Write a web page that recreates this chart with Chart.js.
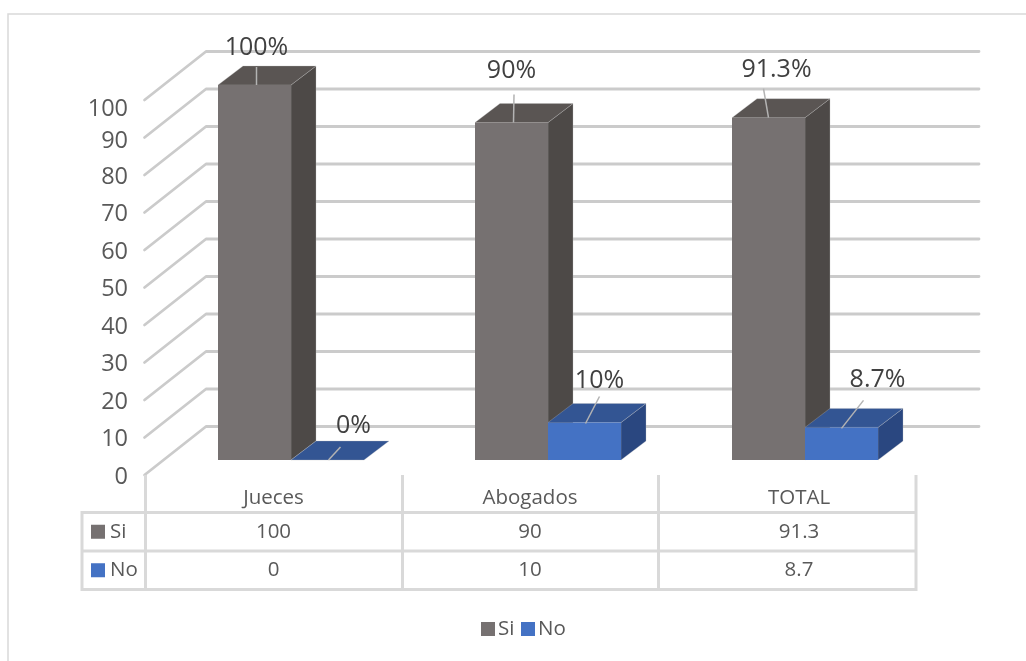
<!DOCTYPE html>
<html>
<head>
<meta charset="utf-8">
<style>
  html, body { margin: 0; padding: 0; background: #fff; }
  canvas { display: block; }
</style>
<script src="https://cdn.jsdelivr.net/npm/chart.js@4"></script>
</head>
<body>
<canvas id="myChart" width="1026" height="661"></canvas>
<script>
const categories = ["Jueces", "Abogados", "TOTAL"];
const siValues = [100, 90, 91.3];
const noValues = [0, 10, 8.7];
const yTickStep = 10;

const FONT = '"Open Sans"';
const TEXT = "#595959";
const LABEL = "#404040";
const LINE = "#d9d9d9";
const GRID = "#cbcbcb";

// depth of the bars and of the walls around them
const barDepth = { x: 25, y: -19 };
const wallFront = { x: -18, y: 15 };
const wallBack = { x: 43.5, y: -33.5 };
const wallRight = 979;

// the two top axis numbers hang lower than their wall lines
const tickNudge = { 100: 7, 90: 2 };

// table grid
const tableCols = [145.5, 402.5, 658.5, 916];
const tableMids = [273.5, 530, 799];
const tableLeft = 82;
const tableTop = 475;
const tableRows = [512.5, 551, 589.5];

// leader line [x0, y0, x1, y1] and label centre [x, y], relative to the bar's top middle
const callouts = [
  [
    { line: [2, 0, 2, -18], label: [2, -37] },
    { line: [2, 0, 2.5, -28], label: [0, -52] },
    { line: [0, 0, -5, -29], label: [8, -47.5] },
  ],
  [
    { line: [1, 0, 13, -13], label: [26, -34] },
    { line: [1, 1, 15, -26], label: [15, -42] },
    { line: [0, 1, 22, -27], label: [36, -47.5] },
  ],
];

function face(c, pts, color) {
  c.beginPath();
  pts.forEach((p, i) => (i ? c.lineTo(p[0], p[1]) : c.moveTo(p[0], p[1])));
  c.closePath();
  c.fillStyle = color;
  c.fill();
  c.strokeStyle = "rgba(190,190,190,0.3)";
  c.lineWidth = 1;
  c.stroke();
}

function text(c, str, x, y, font, color, align) {
  c.font = font;
  c.fillStyle = color;
  c.textAlign = align || "center";
  c.textBaseline = "middle";
  c.fillText(str, x, y);
}

function drawFaces(c, ds, meta) {
  meta.data.forEach((bar) => {
    const l = bar.x - bar.width / 2;
    const r = bar.x + bar.width / 2;
    const t = bar.y;
    const b = bar.base;
    const dx = barDepth.x;
    const dy = barDepth.y;
    if (b - t > 0.5) {
      face(c, [[r, t], [r + dx, t + dy], [r + dx, b + dy], [r, b]], ds.sideColor);
    }
    face(c, [[l, t], [l + dx, t + dy], [r + dx, t + dy], [r, t]], ds.topColor);
  });
}

const bars3d = {
  id: "bars3d",

  // outer frame, side wall and back wall lines
  beforeDatasetsDraw(chart) {
    const c = chart.ctx;
    const yScale = chart.scales.y;
    const left = chart.chartArea.left;
    c.save();
    c.strokeStyle = LINE;
    c.lineWidth = 1.5;
    c.beginPath();
    c.moveTo(8, 661);
    c.lineTo(8, 14);
    c.lineTo(1026, 14);
    c.stroke();

    c.strokeStyle = GRID;
    c.lineWidth = 2.8;
    c.lineCap = "round";
    c.lineJoin = "round";
    yScale.ticks.forEach((t) => {
      const y = yScale.getPixelForValue(t.value);
      c.beginPath();
      c.moveTo(left + wallFront.x, y + wallFront.y);
      c.lineTo(left + wallBack.x, y + wallBack.y);
      c.lineTo(wallRight, y + wallBack.y);
      c.stroke();
      const labelY = y + wallFront.y + 2 + (tickNudge[t.value] || 0);
      text(c, String(t.value), 128, labelY, "23.5px " + FONT, TEXT, "right");
    });
    c.restore();
  },

  // "Si" faces go under its front face; "No" is held back so it lands on top of "Si"
  beforeDatasetDraw(chart, args) {
    if (args.index === 1) return false;
    const c = chart.ctx;
    c.save();
    drawFaces(c, chart.data.datasets[0], args.meta);
    c.restore();
  },

  afterDatasetsDraw(chart) {
    const c = chart.ctx;
    c.save();
    const noMeta = chart.getDatasetMeta(1);
    drawFaces(c, chart.data.datasets[1], noMeta);
    noMeta.data.forEach((bar) => bar.draw(c));

    chart.data.datasets.forEach((ds, i) => {
      chart.getDatasetMeta(i).data.forEach((bar, j) => {
        const call = callouts[i][j];
        c.strokeStyle = "#b3b3b3";
        c.lineWidth = 1.5;
        c.beginPath();
        c.moveTo(bar.x + call.line[0], bar.y + call.line[1]);
        c.lineTo(bar.x + call.line[2], bar.y + call.line[3]);
        c.stroke();
        text(c, ds.data[j] + "%", bar.x + call.label[0], bar.y + call.label[1], "25px " + FONT, LABEL);
      });
    });
    c.restore();
  },

  // data table and legend
  afterDraw(chart) {
    const c = chart.ctx;
    const tableFont = "20.5px " + FONT;
    c.save();
    c.strokeStyle = LINE;
    c.lineWidth = 3;
    c.beginPath();
    tableCols.forEach((x) => {
      c.moveTo(x, tableTop);
      c.lineTo(x, tableRows[2]);
    });
    c.moveTo(tableLeft, tableRows[0]);
    c.lineTo(tableLeft, tableRows[2]);
    tableRows.forEach((y) => {
      c.moveTo(tableLeft - 1.5, y);
      c.lineTo(tableCols[3] + 1.5, y);
    });
    c.stroke();

    categories.forEach((name, i) => {
      text(c, name, tableMids[i], 498, tableFont, TEXT);
      chart.data.datasets.forEach((ds, k) => {
        text(c, String(ds.data[i]), tableMids[i], (tableRows[k] + tableRows[k + 1]) / 2, tableFont, TEXT);
      });
    });

    chart.data.datasets.forEach((ds, k) => {
      const y = (tableRows[k] + tableRows[k + 1]) / 2;
      c.fillStyle = ds.backgroundColor;
      c.fillRect(91, y - 7, 14, 14);
      text(c, ds.label, 110, y, tableFont, TEXT, "left");
    });

    const legendX = [481, 521];
    chart.data.datasets.forEach((ds, k) => {
      c.fillStyle = ds.backgroundColor;
      c.fillRect(legendX[k], 622, 14, 14);
      text(c, ds.label, legendX[k] + 17, 629, tableFont, TEXT, "left");
    });
    c.restore();
  },
};

const ctx = document.getElementById("myChart");

const newChart = new Chart(ctx, {
  type: "bar",
  data: {
    labels: categories,
    datasets: [
      {
        label: "Si",
        data: siValues,
        backgroundColor: "#767171",
        topColor: "#5a5553",
        sideColor: "#4d4947",
      },
      {
        label: "No",
        data: noValues,
        backgroundColor: "#4472c4",
        topColor: "#335593",
        sideColor: "#2a4780",
      },
    ],
  },
  options: {
    responsive: false,
    animation: false,
    layout: {
      padding: { left: 162.5, right: 92.5, top: 85, bottom: 201 },
    },
    datasets: {
      bar: { categoryPercentage: 146 / 257, barPercentage: 1 },
    },
    scales: {
      x: { display: false },
      y: {
        display: false,
        min: 0,
        max: 100,
        ticks: { stepSize: yTickStep },
      },
    },
    plugins: {
      legend: { display: false },
      tooltip: { enabled: false },
    },
  },
  plugins: [bars3d],
});
</script>
</body>
</html>
